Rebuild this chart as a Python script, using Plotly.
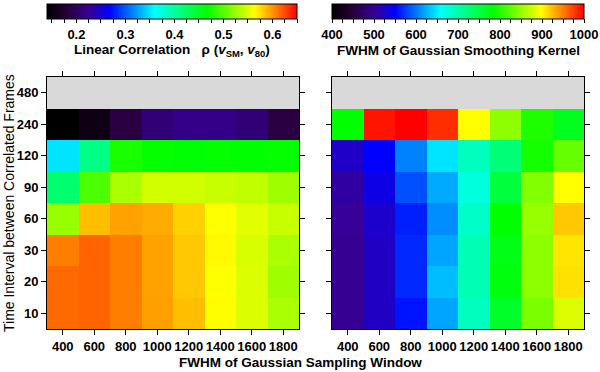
import numpy as np
import plotly.graph_objects as go

# ---------------- data ----------------
fwhm_window = [400, 600, 800, 1000, 1200, 1400, 1600, 1800]
time_interval = ["10", "20", "30", "60", "90", "120", "240", "480"]

# Linear correlation rho(v_SM, v_80); rows = time_interval (bottom->top)
corr_10 = [0.614, 0.616, 0.607, 0.596, 0.585, 0.564, 0.550, 0.531]
corr_20 = [0.614, 0.616, 0.607, 0.595, 0.582, 0.563, 0.550, 0.527]
corr_30 = [0.607, 0.616, 0.607, 0.595, 0.582, 0.565, 0.548, 0.531]
corr_60 = [0.524, 0.585, 0.595, 0.592, 0.579, 0.563, 0.552, 0.542]
corr_90 = [0.420, 0.495, 0.531, 0.546, 0.546, 0.542, 0.539, 0.527]
corr_120 = [0.350, 0.410, 0.475, 0.468, 0.465, 0.468, 0.466, 0.468]
corr_240 = [0.140, 0.155, 0.186, 0.211, 0.220, 0.220, 0.211, 0.186]
corr_480 = [None] * 8

# FWHM of Gaussian smoothing kernel
kern_10 = [500, 522, 558, 620, 690, 764, 838, 882]
kern_20 = [500, 522, 567, 630, 695, 778, 847, 910]
kern_30 = [500, 522, 567, 620, 695, 774, 847, 908]
kern_60 = [502, 526, 563, 610, 685, 784, 851, 920]
kern_90 = [508, 538, 584, 622, 675, 754, 842, 898]
kern_120 = [524, 550, 605, 647, 690, 725, 793, 829]
kern_240 = [784, 992, 1000, 982, 898, 847, 797, 769]
kern_480 = [None] * 8

corr_rows = [corr_10, corr_20, corr_30, corr_60, corr_90, corr_120, corr_240, corr_480]
kern_rows = [kern_10, kern_20, kern_30, kern_60, kern_90, kern_120, kern_240, kern_480]

corr_ticks = [0.2, 0.3, 0.4, 0.5, 0.6]
kern_ticks = [400, 500, 600, 700, 800, 900, 1000]

# ---------------- style ----------------
W, H = 600, 372
FONT = "Liberation Sans"
TICK = 13
TITLE = 13.5
rainbow = [
    [0.00, "rgb(0,0,0)"],
    [0.08, "rgb(40,0,55)"],
    [0.17, "rgb(55,0,150)"],
    [0.25, "rgb(0,0,255)"],
    [0.43, "rgb(0,255,255)"],
    [0.64, "rgb(0,255,0)"],
    [0.83, "rgb(255,255,0)"],
    [1.00, "rgb(255,0,0)"],
]

def z_of(rows):
    return np.array([[np.nan if v is None else v for v in r] for r in rows], dtype=float)

def px_x(p):
    return p / W

def px_y(p):
    return 1 - p / H

x0L, x1L = 47, 299
x0R, x1R = 332, 584
yT, yB = 77, 329

def cb(xa, xb, tickvals, ticktext, minor_step, lo, hi):
    vals = list(np.round(np.arange(lo, hi + minor_step / 2, minor_step), 4))
    texts = []
    for v in vals:
        match = [t for tv, t in zip(tickvals, ticktext) if abs(tv - v) < 1e-6]
        texts.append(match[0] if match else "")
    return dict(
        orientation="h",
        x=px_x((xa + xb) / 2), xanchor="center",
        y=px_y(4), yanchor="top",
        len=(xb - xa) / W, lenmode="fraction",
        thickness=15, thicknessmode="pixels",
        xpad=0, ypad=0,
        outlinewidth=1, outlinecolor="black",
        tickmode="array", tickvals=vals, ticktext=texts,
        ticks="outside", ticklen=4, tickcolor="black", tickwidth=1,
        tickfont=dict(family=FONT, size=TICK, color="black", weight="bold"),
    )

corr_lo, corr_hi = 0.14, 0.65
kern_lo, kern_hi = 400, 1000

fig = go.Figure()
fig.add_trace(go.Heatmap(
    x=fwhm_window, y=time_interval, z=z_of(corr_rows),
    colorscale=rainbow, zmin=corr_lo, zmax=corr_hi,
    xaxis="x", yaxis="y",
    colorbar=cb(47, 297, corr_ticks, [f"{t:.1f}" for t in corr_ticks], 0.025, 0.15, 0.65),
    hoverongaps=False,
))
fig.add_trace(go.Heatmap(
    x=fwhm_window, y=time_interval, z=z_of(kern_rows),
    colorscale=rainbow, zmin=kern_lo, zmax=kern_hi,
    xaxis="x2", yaxis="y2",
    colorbar=cb(332, 584, kern_ticks, [str(t) for t in kern_ticks], 25, 400, 1000),
    hoverongaps=False,
))

axis_common = dict(
    showline=True, linecolor="black", linewidth=1, mirror="ticks",
    ticks="outside", ticklen=5, tickcolor="black", showgrid=False, zeroline=False,
    tickfont=dict(family=FONT, size=TICK, color="black", weight="bold"),
)

fig.update_layout(
    width=W, height=H,
    margin=dict(l=0, r=0, t=0, b=0, autoexpand=False),
    paper_bgcolor="white",
    plot_bgcolor="#d9d9d9",
    showlegend=False,
    xaxis=dict(domain=[px_x(x0L), px_x(x1L)], anchor="y", range=[300, 1900],
               tickvals=fwhm_window, tickangle=0, **axis_common),
    yaxis=dict(domain=[px_y(yB), px_y(yT)], anchor="x", type="category",
               range=[-0.5, 7.5], **axis_common),
    xaxis2=dict(domain=[px_x(x0R), px_x(x1R)], anchor="y2", range=[300, 1900],
                tickvals=fwhm_window, tickangle=0, **axis_common),
    yaxis2=dict(domain=[px_y(yB), px_y(yT)], anchor="x2", type="category",
                range=[-0.5, 7.5], showticklabels=False, **axis_common),
)

ann_font_b = dict(family=FONT, size=TITLE, color="black", weight="bold")
fig.add_annotation(
    x=px_x((47 + 297) / 2), y=px_y(51), xref="paper", yref="paper",
    text="Linear Correlation   ρ (<i>v</i><sub>SM</sub>, <i>v</i><sub>80</sub>)",
    showarrow=False, font=ann_font_b, xanchor="center", yanchor="middle",
)
fig.add_annotation(
    x=px_x((332 + 584) / 2), y=px_y(50), xref="paper", yref="paper",
    text="FWHM of Gaussian Smoothing Kernel",
    showarrow=False, font=ann_font_b, xanchor="center", yanchor="middle",
)
fig.add_annotation(
    x=px_x(300), y=px_y(362), xref="paper", yref="paper",
    text="FWHM of Gaussian Sampling Window",
    showarrow=False, font=ann_font_b, xanchor="center", yanchor="middle",
)
fig.add_annotation(
    x=px_x(9), y=px_y(203), xref="paper", yref="paper",
    text="Time Interval between Correlated Frames", textangle=-90,
    showarrow=False, font=dict(family=FONT, size=14, color="black"),
    xanchor="center", yanchor="middle",
)

fig.write_html(
    "out.html",
    config={"displayModeBar": False},
    post_script="document.body.style.margin='0';document.body.style.padding='0';",
)
